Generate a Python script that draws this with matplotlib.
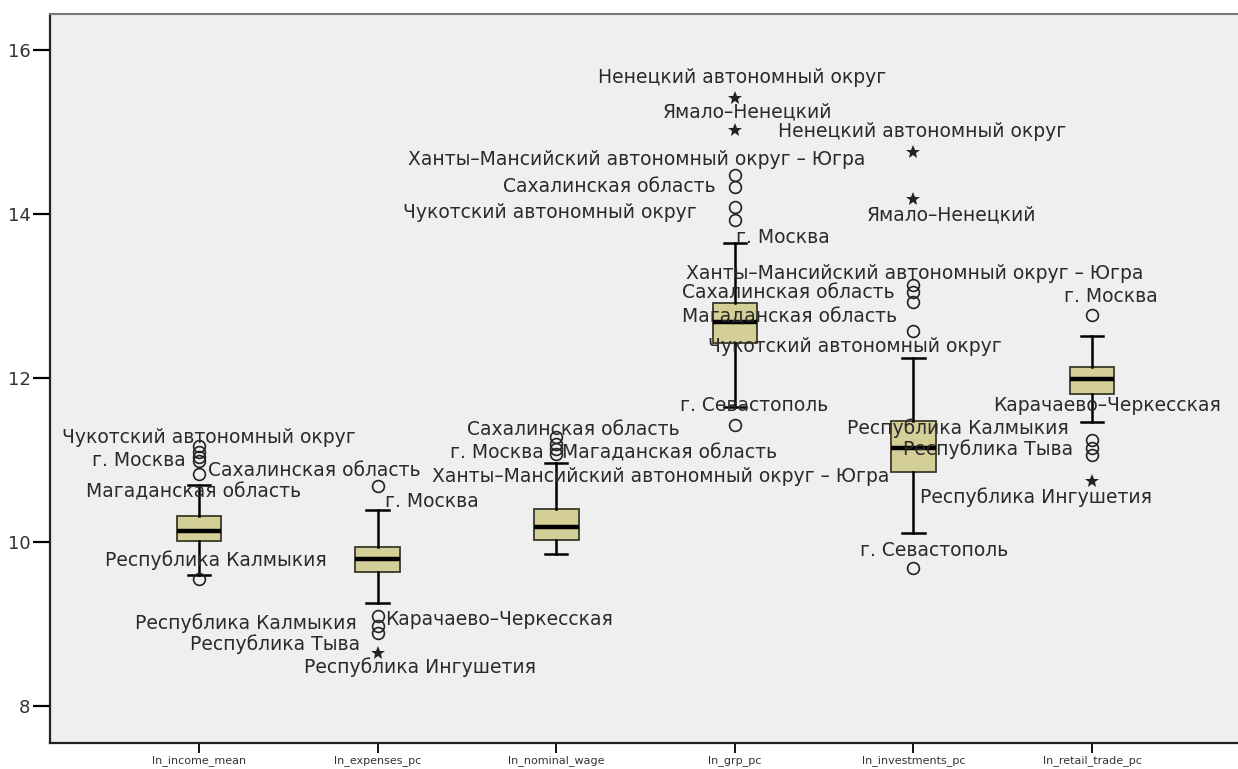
import matplotlib
matplotlib.use("Agg")
import matplotlib.pyplot as plt

categories = ['ln_income_mean', 'ln_expenses_pc', 'ln_nominal_wage',
              'ln_grp_pc', 'ln_investments_pc', 'ln_retail_trade_pc']
q1 = [10.01, 9.63, 10.02, 12.43, 10.85, 11.81]
med = [10.13, 9.79, 10.18, 12.68, 11.15, 11.99]
q3 = [10.32, 9.94, 10.40, 12.92, 11.48, 12.13]
whislo = [9.60, 9.26, 9.86, 11.65, 10.11, 11.46]
whishi = [10.70, 10.39, 10.96, 13.65, 12.24, 12.51]

# outliers (circles) and extremes (stars) per category
circles = [
    [11.17, 11.10, 11.04, 10.99, 10.83, 9.55],
    [10.69, 9.10, 8.98, 8.89],
    [11.28, 11.20, 11.13, 11.07],
    [14.48, 14.33, 14.09, 13.93, 11.43],
    [13.13, 13.05, 12.93, 12.58, 9.68],
    [12.77, 11.24, 11.15, 11.06],
]
stars = [
    [],
    [8.65],
    [],
    [15.41, 15.02],
    [14.76, 14.18],
    [10.75],
]

# point labels: text, x (category units), y (value units)
label_texts = [
    'Чукотский автономный округ', 'г. Москва', 'Сахалинская область',
    'Магаданская область', 'Республика Калмыкия',
    'г. Москва', 'Республика Калмыкия', 'Карачаево–Черкесская',
    'Республика Тыва', 'Республика Ингушетия',
    'Сахалинская область', 'г. Москва', 'Магаданская область',
    'Ханты–Мансийский автономный округ – Югра',
    'Ненецкий автономный округ', 'Ямало–Ненецкий',
    'Ханты–Мансийский автономный округ – Югра', 'Сахалинская область',
    'Чукотский автономный округ', 'г. Москва', 'г. Севастополь',
    'Ненецкий автономный округ', 'Ямало–Ненецкий',
    'Ханты–Мансийский автономный округ – Югра', 'Сахалинская область',
    'Магаданская область', 'Чукотский автономный округ',
    'Республика Калмыкия', 'Республика Тыва', 'Республика Ингушетия',
    'г. Севастополь',
    'г. Москва', 'Карачаево–Черкесская',
]
label_x = [0.233, 0.401, 1.050, 0.367, 0.474,
           2.041, 0.642, 2.041, 0.950, 1.588,
           2.501, 2.405, 3.032, 2.305,
           3.234, 3.598, 2.170, 2.702, 2.142, 4.007, 3.693,
           4.242, 4.740, 3.727, 3.704, 3.704, 3.850,
           4.628, 4.942, 5.037, 4.701,
           5.843, 5.446]
label_y = [11.27, 11.00, 10.87, 10.61, 9.78,
           10.49, 9.01, 9.05, 8.76, 8.48,
           11.37, 11.09, 11.09, 10.80,
           15.66, 15.25, 14.66, 14.34, 14.02, 13.72, 11.66,
           15.01, 13.99, 13.28, 13.04, 12.74, 12.39,
           11.39, 11.13, 10.55, 9.90,
           12.99, 11.66]

fig = plt.figure(figsize=(12.38, 7.69), dpi=100)
ax = fig.add_axes([50/1238, 1-743/769, 1-50/1238, (743-14)/769])
ax.set_facecolor('#EFEFEF')

stats = []
for i in range(len(categories)):
    stats.append(dict(med=med[i], q1=q1[i], q3=q3[i], whislo=whislo[i],
                      whishi=whishi[i], fliers=[], label=categories[i]))
pos = list(range(1, len(categories)+1))
ax.bxp(stats, positions=pos, widths=0.25, patch_artist=True, showfliers=False,
       boxprops=dict(facecolor='#D4CE97', edgecolor='#3a3a2a', linewidth=1.3),
       medianprops=dict(color='black', linewidth=3.2),
       whiskerprops=dict(color='black', linewidth=1.8),
       capprops=dict(color='black', linewidth=1.8), capwidths=0.125)

for i in range(len(categories)):
    if circles[i]:
        ax.plot([pos[i]]*len(circles[i]), circles[i], 'o', ms=8.5, mfc='none',
                mec='#222222', mew=1.2, zorder=4)
    if stars[i]:
        ax.plot([pos[i]]*len(stars[i]), stars[i], '*', ms=10, color='#222222',
                mew=0, zorder=4)

for t, x, y in zip(label_texts, label_x, label_y):
    ax.text(x, y, t, ha='left', va='center', fontsize=13.5, color='#2a2a2a',
            family='DejaVu Sans', zorder=5)

ax.set_xlim(0.1657, 6.817)
ax.set_ylim(7.55, 16.44)
ax.set_yticks([8, 10, 12, 14, 16])
ax.set_xticks(pos)
ax.set_xticklabels(categories, fontsize=8, family=['Liberation Sans Narrow', 'DejaVu Sans'],
                   color='#333333')
ax.tick_params(axis='y', length=12, width=1.6, labelsize=13, labelcolor='#333333', pad=2)
ax.tick_params(axis='x', length=7, width=1.3, pad=2)
for s in ['left', 'bottom']:
    ax.spines[s].set_linewidth(1.6)
    ax.spines[s].set_color('#222222')
ax.spines['top'].set_color('#777777')
ax.spines['top'].set_linewidth(1.5)
ax.spines['right'].set_visible(False)

fig.savefig('out.png', dpi=100, facecolor='white')
